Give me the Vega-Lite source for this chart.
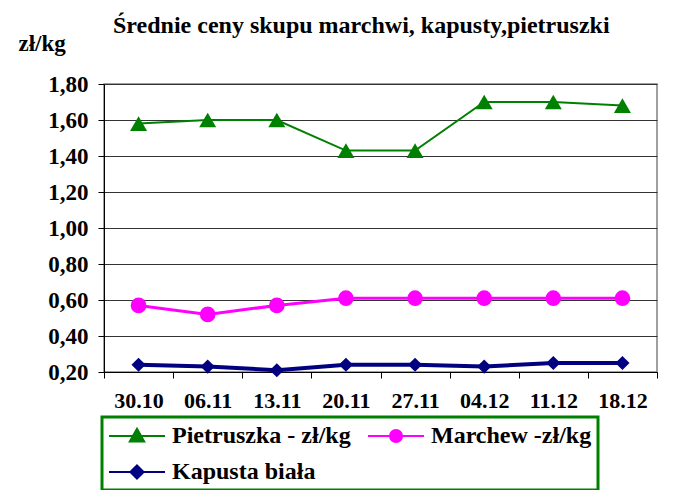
{
  "$schema": "https://vega.github.io/schema/vega-lite/v6.json",
  "width": 553,
  "height": 288,
  "autosize": "none",
  "padding": {"left": 104, "top": 84, "right": 37, "bottom": 118},
  "background": "white",
  "title": {
    "text": "Średnie ceny skupu marchwi, kapusty,pietruszki",
    "anchor": "start",
    "frame": "group",
    "baseline": "alphabetic",
    "dx": 9,
    "dy": 25,
    "offset": 0,
    "font": "Times New Roman, Liberation Serif, DejaVu Serif, serif",
    "fontSize": 24,
    "fontWeight": "bold",
    "color": "black"
  },
  "config": {
    "view": {"stroke": "#808080", "strokeWidth": 1.5},
    "font": "Times New Roman, Liberation Serif, DejaVu Serif, serif",
    "legend": {"strokeWidth": 3}
  },
  "data": {
    "values": [
      {"date": "30.10", "series": "Pietruszka - zł/kg", "price": 1.58},
      {"date": "06.11", "series": "Pietruszka - zł/kg", "price": 1.60},
      {"date": "13.11", "series": "Pietruszka - zł/kg", "price": 1.60},
      {"date": "20.11", "series": "Pietruszka - zł/kg", "price": 1.43},
      {"date": "27.11", "series": "Pietruszka - zł/kg", "price": 1.43},
      {"date": "04.12", "series": "Pietruszka - zł/kg", "price": 1.70},
      {"date": "11.12", "series": "Pietruszka - zł/kg", "price": 1.70},
      {"date": "18.12", "series": "Pietruszka - zł/kg", "price": 1.68},
      {"date": "30.10", "series": "Marchew -zł/kg", "price": 0.57},
      {"date": "06.11", "series": "Marchew -zł/kg", "price": 0.52},
      {"date": "13.11", "series": "Marchew -zł/kg", "price": 0.57},
      {"date": "20.11", "series": "Marchew -zł/kg", "price": 0.61},
      {"date": "27.11", "series": "Marchew -zł/kg", "price": 0.61},
      {"date": "04.12", "series": "Marchew -zł/kg", "price": 0.61},
      {"date": "11.12", "series": "Marchew -zł/kg", "price": 0.61},
      {"date": "18.12", "series": "Marchew -zł/kg", "price": 0.61},
      {"date": "30.10", "series": "Kapusta biała", "price": 0.24},
      {"date": "06.11", "series": "Kapusta biała", "price": 0.23},
      {"date": "13.11", "series": "Kapusta biała", "price": 0.21},
      {"date": "20.11", "series": "Kapusta biała", "price": 0.24},
      {"date": "27.11", "series": "Kapusta biała", "price": 0.24},
      {"date": "04.12", "series": "Kapusta biała", "price": 0.23},
      {"date": "11.12", "series": "Kapusta biała", "price": 0.25},
      {"date": "18.12", "series": "Kapusta biała", "price": 0.25}
    ]
  },
  "encoding": {
    "x": {
      "field": "date",
      "type": "ordinal",
      "sort": null,
      "scale": {"type": "band", "paddingInner": 0, "paddingOuter": 0},
      "axis": {
        "title": null,
        "labelAngle": 0,
        "tickBand": "extent",
        "tickSize": 6,
        "tickColor": "black",
        "domainColor": "black",
        "labelPadding": 12,
        "labelFont": "Times New Roman, Liberation Serif, DejaVu Serif, serif",
        "labelFontSize": 22,
        "labelFontWeight": "bold",
        "labelColor": "black",
        "grid": false
      }
    },
    "y": {
      "field": "price",
      "type": "quantitative",
      "scale": {"domain": [0.2, 1.8], "nice": false, "zero": false},
      "axis": {
        "values": [0.2, 0.4, 0.6, 0.8, 1.0, 1.2, 1.4, 1.6, 1.8],
        "labelExpr": "replace(format(datum.value, '.2f'), '.', ',')",
        "grid": true,
        "gridColor": "#333333",
        "gridWidth": 1,
        "tickColor": "black",
        "tickSize": 6,
        "domainColor": "black",
        "labelPadding": 10,
        "labelFont": "Times New Roman, Liberation Serif, DejaVu Serif, serif",
        "labelFontSize": 23,
        "labelFontWeight": "bold",
        "labelColor": "black",
        "title": "zł/kg",
        "titleAngle": 0,
        "titleAlign": "left",
        "titleBaseline": "alphabetic",
        "titleX": -86,
        "titleY": -34,
        "titleFont": "Times New Roman, Liberation Serif, DejaVu Serif, serif",
        "titleFontSize": 23,
        "titleFontWeight": "bold",
        "titleColor": "black"
      }
    }
  },
  "layer": [
    {
      "mark": {"type": "line"},
      "encoding": {
        "color": {
          "field": "series",
          "type": "nominal",
          "scale": {
            "domain": ["Pietruszka - zł/kg", "Marchew -zł/kg", "Kapusta biała"],
            "range": ["#008000", "#FF00FF", "#000080"]
          },
          "legend": null
        },
        "strokeWidth": {
          "field": "series",
          "type": "nominal",
          "scale": {
            "domain": ["Pietruszka - zł/kg", "Marchew -zł/kg", "Kapusta biała"],
            "range": [2, 4, 2]
          },
          "legend": null
        }
      }
    },
    {
      "mark": {"type": "point", "filled": true, "opacity": 1},
      "encoding": {
        "color": {
          "field": "series",
          "type": "nominal",
          "scale": {
            "domain": ["Pietruszka - zł/kg", "Marchew -zł/kg", "Kapusta biała"],
            "range": ["#008000", "#FF00FF", "#000080"]
          },
          "legend": null
        },
        "shape": {
          "field": "series",
          "type": "nominal",
          "scale": {
            "domain": ["Pietruszka - zł/kg", "Marchew -zł/kg", "Kapusta biała"],
            "range": ["triangle-up", "circle", "diamond"]
          },
          "legend": null
        },
        "size": {
          "field": "series",
          "type": "nominal",
          "scale": {
            "domain": ["Pietruszka - zł/kg", "Marchew -zł/kg", "Kapusta biała"],
            "range": [290, 200, 170]
          },
          "legend": null
        }
      }
    },
    {
      "mark": {"type": "point", "filled": true, "opacity": 0, "size": 576, "strokeWidth": 2},
      "encoding": {
        "fill": {
          "field": "series",
          "type": "nominal",
          "scale": {
            "domain": ["Pietruszka - zł/kg", "Marchew -zł/kg", "Kapusta biała"],
            "range": ["#008000", "#FF00FF", "#000080"]
          },
          "legend": {
            "title": null, "orient": "none", "legendX": -2, "legendY": 333,
            "direction": "horizontal", "columns": 2, "gridAlign": "all", "padding": 6,
            "symbolSize": 576, "symbolOpacity": 1, "symbolStrokeWidth": 2,
            "labelOffset": 38, "rowPadding": 11, "columnPadding": 13,
            "labelFont": "Times New Roman, Liberation Serif, DejaVu Serif, serif", "labelFontSize": 24, "labelFontWeight": "bold",
            "labelColor": "black", "labelLimit": 400, "strokeColor": "#008000"
          }
        },
        "stroke": {
          "field": "series",
          "type": "nominal",
          "scale": {
            "domain": ["Pietruszka - zł/kg", "Marchew -zł/kg", "Kapusta biała"],
            "range": ["#008000", "#FF00FF", "#000080"]
          },
          "legend": {
            "title": null, "orient": "none", "legendX": -2, "legendY": 333,
            "direction": "horizontal", "columns": 2, "gridAlign": "all", "padding": 6,
            "symbolSize": 576, "symbolOpacity": 1, "symbolStrokeWidth": 2,
            "labelOffset": 38, "rowPadding": 11, "columnPadding": 13,
            "labelFont": "Times New Roman, Liberation Serif, DejaVu Serif, serif", "labelFontSize": 24, "labelFontWeight": "bold",
            "labelColor": "black", "labelLimit": 400, "strokeColor": "#008000"
          }
        },
        "shape": {
          "field": "series",
          "type": "nominal",
          "scale": {
            "domain": ["Pietruszka - zł/kg", "Marchew -zł/kg", "Kapusta biała"],
            "range": [
              "M-1,0H3.667M1.333,-0.6L1.933,0.45L0.733,0.45Z",
              "M-1,0H3.667M0.833,0A0.5,0.5,0,1,0,1.833,0A0.5,0.5,0,1,0,0.833,0Z",
              "M-1,0H3.667M1.333,-0.55L1.883,0L1.333,0.55L0.783,0Z"
            ]
          },
          "legend": {
            "title": null, "orient": "none", "legendX": -2, "legendY": 333,
            "direction": "horizontal", "columns": 2, "gridAlign": "all", "padding": 6,
            "symbolSize": 576, "symbolOpacity": 1, "symbolStrokeWidth": 2,
            "labelOffset": 38, "rowPadding": 11, "columnPadding": 13,
            "labelFont": "Times New Roman, Liberation Serif, DejaVu Serif, serif", "labelFontSize": 24, "labelFontWeight": "bold",
            "labelColor": "black", "labelLimit": 400, "strokeColor": "#008000"
          }
        }
      }
    }
  ],
  "resolve": {"scale": {"shape": "independent", "fill": "independent", "stroke": "independent"}}
}
